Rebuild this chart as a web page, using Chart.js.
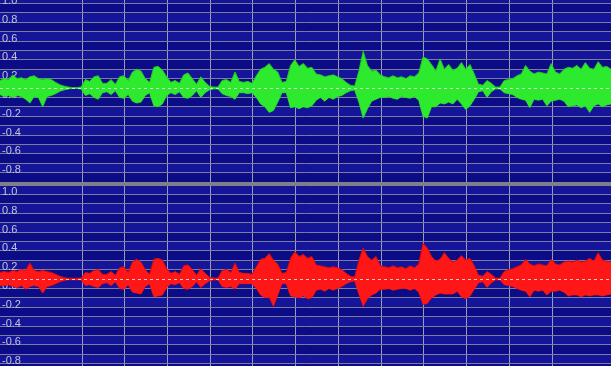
<!DOCTYPE html>
<html>
<head>
<meta charset="utf-8">
<script src="https://cdn.jsdelivr.net/npm/chart.js@4"></script>
<style>
  html, body { margin: 0; padding: 0; background: #808080; overflow: hidden; }
  body { width: 611px; height: 366px; position: relative; }
  canvas { position: absolute; left: 0; }
  #left { top: -6px; }
  #right { top: 185px; }
</style>
</head>
<body>
<canvas id="left" width="611" height="188"></canvas>
<canvas id="right" width="611" height="188"></canvas>
<script>
// time axis (seconds), one envelope column every DT
const T0 = 0.08;
const DT = 0.1;
const T_END = 14.38;

// left channel peak envelope (green)
const leftHi = [
  .08, .10, .09, .14, .10, .11, .09, .12, .13, .10, .09, .10, .09, .06, .035, .02, .01, .005, .005, .01,
  .09, .07, .12, .13, .05, .05, .09, .04, .12, .13, .08, .17, .20, .18, .10, .06, .22, .23, .19, .12,
  .06, .08, .05, .14, .16, .10, .04, .12, .06, .02, .01, .01, .08, .09, .06, .17, .07, .06, .07, .05,
  .13, .20, .22, .26, .20, .17, .06, .07, .24, .30, .23, .26, .21, .22, .15, .14, .12, .13, .14, .12,
  .10, .06, .03, .02, .18, .39, .24, .18, .19, .14, .12, .11, .13, .11, .12, .10, .13, .12, .16, .33,
  .31, .25, .18, .31, .20, .25, .19, .21, .27, .20, .25, .15, .04, .03, .08, .05, .01, .01, .08, .09,
  .10, .13, .15, .24, .18, .15, .17, .16, .15, .26, .17, .15, .20, .22, .21, .24, .20, .27, .21, .20,
  .28, .22, .23, .20
];
const leftLo = [
  -.07, -.09, -.08, -.10, -.08, -.09, -.12, -.16, -.09, -.10, -.20, -.09, -.08, -.06, -.035, -.02, -.01, -.005, -.005, -.01,
  -.08, -.06, -.10, -.12, -.05, -.04, -.07, -.03, -.10, -.11, -.07, -.14, -.16, -.15, -.08, -.05, -.19, -.20, -.17, -.08,
  -.05, -.07, -.04, -.10, -.11, -.08, -.03, -.10, -.05, -.02, -.01, -.01, -.06, -.08, -.09, -.12, -.05, -.05, -.06, -.05,
  -.10, -.17, -.20, -.26, -.24, -.15, -.05, -.05, -.21, -.20, -.22, -.20, -.21, -.19, -.13, -.10, -.14, -.10, -.12, -.09,
  -.08, -.05, -.03, -.02, -.15, -.32, -.22, -.14, -.12, -.10, -.10, -.09, -.11, -.12, -.09, -.10, -.11, -.09, -.13, -.30,
  -.32, -.20, -.20, -.16, -.17, -.15, -.17, -.12, -.17, -.23, -.19, -.12, -.04, -.03, -.10, -.04, -.01, -.01, -.05, -.06,
  -.07, -.10, -.12, -.13, -.21, -.12, -.13, -.12, -.19, -.14, -.13, -.12, -.14, -.20, -.19, -.18, -.21, -.19, -.26, -.19,
  -.17, -.20, -.18, -.17
];

// right channel peak envelope (red)
const rightHi = [
  .07, .08, .07, .09, .08, .10, .09, .17, .09, .08, .09, .08, .07, .05, .03, .015, .008, .008, .008, .01,
  .07, .06, .09, .10, .05, .05, .08, .04, .12, .13, .07, .18, .21, .18, .10, .05, .21, .22, .20, .11,
  .06, .08, .05, .14, .15, .10, .04, .11, .06, .02, .01, .01, .09, .10, .07, .17, .07, .06, .06, .05,
  .13, .21, .22, .27, .20, .16, .06, .07, .22, .29, .24, .26, .22, .24, .15, .14, .13, .12, .13, .12,
  .10, .06, .03, .02, .20, .33, .24, .20, .24, .14, .13, .12, .14, .12, .13, .11, .14, .12, .16, .38,
  .33, .24, .19, .21, .28, .22, .18, .20, .25, .20, .22, .14, .04, .03, .08, .05, .01, .01, .08, .10,
  .11, .13, .15, .21, .16, .14, .16, .15, .14, .21, .16, .15, .18, .19, .18, .20, .18, .19, .22, .19,
  .28, .20, .19, .18
];
const rightLo = [
  -.07, -.07, -.06, -.08, -.09, -.07, -.11, -.08, -.07, -.08, -.15, -.08, -.07, -.05, -.03, -.015, -.008, -.008, -.008, -.01,
  -.07, -.06, -.08, -.09, -.05, -.04, -.07, -.03, -.10, -.11, -.06, -.14, -.15, -.16, -.08, -.05, -.19, -.18, -.17, -.09,
  -.05, -.06, -.04, -.10, -.11, -.08, -.03, -.09, -.05, -.02, -.01, -.01, -.08, -.09, -.08, -.11, -.05, -.05, -.05, -.05,
  -.10, -.17, -.20, -.19, -.29, -.17, -.05, -.05, -.18, -.19, -.20, -.18, -.21, -.20, -.12, -.11, -.13, -.10, -.12, -.10,
  -.08, -.05, -.03, -.02, -.16, -.29, -.21, -.17, -.15, -.11, -.11, -.10, -.12, -.11, -.10, -.10, -.12, -.10, -.14, -.27,
  -.26, -.20, -.17, -.15, -.16, -.16, -.16, -.13, -.19, -.21, -.18, -.11, -.04, -.03, -.09, -.04, -.01, -.01, -.06, -.07,
  -.08, -.10, -.12, -.13, -.19, -.12, -.13, -.12, -.17, -.13, -.13, -.12, -.14, -.18, -.17, -.17, -.19, -.17, -.18, -.17,
  -.17, -.18, -.17, -.16
];

const times = leftHi.map((_, i) => +(T0 + i * DT).toFixed(2));

// alternating row bands + dashed zero line
const bandsPlugin = {
    id: 'bands',
    beforeDraw(chart) {
        const { ctx, chartArea: a, scales: { y } } = chart;
        const ticks = y.ticks;
        ctx.save();
        for (let i = 0; i < ticks.length - 1; i++) {
            const y1 = y.getPixelForValue(ticks[i].value);
            const y2 = y.getPixelForValue(ticks[i + 1].value);
            ctx.fillStyle = i % 2 ? '#15159a' : '#0c0c86';
            ctx.fillRect(a.left, y2, a.right - a.left, y1 - y2);
        }
        ctx.restore();
    },
    afterDatasetsDraw(chart) {
        const { ctx, chartArea: a, scales: { y } } = chart;
        const y0 = Math.round(y.getPixelForValue(0)) + 0.5;
        ctx.save();
        ctx.strokeStyle = 'rgba(235,235,235,0.85)';
        ctx.lineWidth = 1;
        ctx.setLineDash([3, 3]);
        ctx.beginPath();
        ctx.moveTo(a.left, y0);
        ctx.lineTo(a.right, y0);
        ctx.stroke();
        ctx.restore();
    }
};

function makePanel(id, hi, lo, color, edge) {
    const pts = arr => times.map((t, i) => ({ x: t, y: arr[i] }));
    new Chart(document.getElementById(id), {
        type: 'line',
        data: {
            datasets: [
                { data: pts(hi), borderColor: edge, backgroundColor: color, borderWidth: 1, pointRadius: 0, fill: '+1', tension: 0 },
                { data: pts(lo), borderColor: edge, backgroundColor: color, borderWidth: 1, pointRadius: 0, fill: false, tension: 0 }
            ]
        },
        options: {
            responsive: false,
            animation: false,
            events: [],
            layout: { padding: 0 },
            plugins: { legend: { display: false }, tooltip: { enabled: false } },
            scales: {
                x: {
                    type: 'linear',
                    min: T0,
                    max: T_END,
                    ticks: { display: false, stepSize: 1, autoSkip: false, maxTicksLimit: 100 },
                    grid: { color: '#9a9ab4', drawTicks: false },
                    border: { display: false },
                    afterBuildTicks: s => { s.ticks = s.ticks.filter(t => Math.abs(t.value - Math.round(t.value)) < 1e-6); },
                    afterFit: s => { s.height = 0; s.paddingLeft = 0; s.paddingRight = 0; }
                },
                y: {
                    min: -1,
                    max: 1,
                    ticks: {
                        stepSize: 0.1,
                        autoSkip: false,
                        maxTicksLimit: 100,
                        mirror: true,
                        padding: 2,
                        labelOffset: 7,
                        color: '#c4c4d4',
                        font: { family: 'Liberation Sans', size: 11 },
                        callback: v => {
                            const k = Math.round(v * 10);
                            return k % 2 === 0 ? (k / 10).toFixed(1) : '';
                        }
                    },
                    grid: { color: '#7c7ca0', drawTicks: false },
                    border: { display: false },
                    afterFit: s => { s.width = 0; s.paddingTop = 0; s.paddingBottom = 0; }
                }
            }
        },
        plugins: [bandsPlugin]
    });
}

makePanel('left', leftHi, leftLo, '#2eea2e', '#22c822');
makePanel('right', rightHi, rightLo, '#ff1616', '#d80c0c');
</script>
</body>
</html>
